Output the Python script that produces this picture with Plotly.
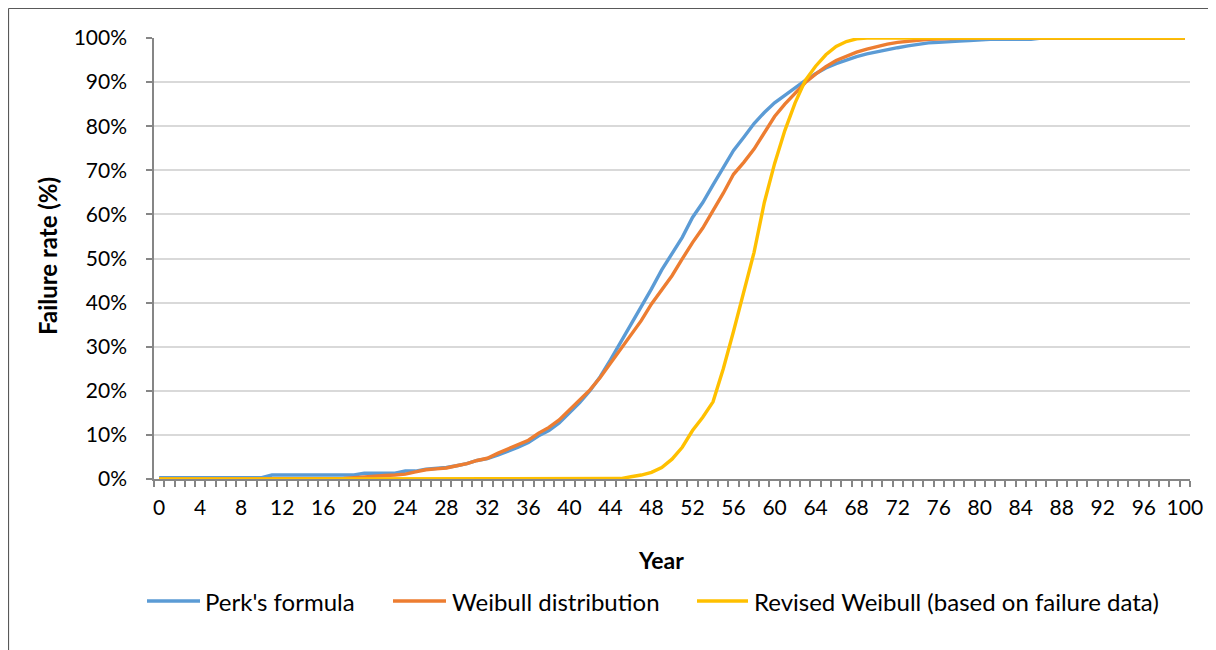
import plotly.graph_objects as go

years = list(range(0, 101))
tick_years = list(range(0, 101, 4))

perks_formula = (
    [0.3] * 11 + [0.9] * 9 + [1.3] * 4 + [1.8] * 2 +
    [2.2, 2.4, 2.6, 3.0, 3.5, 4.2, 4.6, 5.4, 6.2, 7.2,
     8.3, 9.8, 11.0, 12.7, 15.0, 17.3, 20.0, 23.2, 27.0, 31.0,
     35.0, 38.9, 43.1, 47.4, 51.0, 54.8, 59.3, 62.7, 66.7, 70.7,
     74.5, 77.5, 80.6, 83.1, 85.3, 87.0, 88.8, 90.4, 91.9, 93.2,
     94.2, 95.1, 95.8, 96.4, 96.9, 97.4, 97.8, 98.2, 98.6, 98.9,
     99.0, 99.2, 99.3, 99.4, 99.6] +
    [99.7] * 5 + [100.0] * 15
)

weibull = (
    [0.0] * 18 +
    [0.1, 0.3, 0.5, 0.7, 0.8, 0.9, 1.1, 1.6, 2.1, 2.3,
     2.5, 3.0, 3.5, 4.2, 4.7, 5.8, 6.8, 7.6, 8.8, 10.4,
     11.7, 13.4, 15.6, 17.9, 20.2, 23.0, 26.3, 29.4, 32.7, 35.9,
     39.7, 42.9, 46.1, 49.9, 53.6, 56.9, 60.8, 64.8, 69.1, 71.8,
     74.8, 78.6, 82.2, 85.0, 87.5, 89.9, 91.8, 93.5, 94.9, 95.9,
     96.8, 97.5, 98.1, 98.6, 99.0, 99.3, 99.5, 99.7, 99.8, 99.9] +
    [100.0] * 23
)

revised_weibull = (
    [0.0] * 45 +
    [0.1, 0.5, 0.9, 1.5, 2.6, 4.5, 7.2, 11.0, 14.0, 17.5,
     25.0, 33.5, 42.7, 51.4, 62.7, 71.5, 79.0, 85.3, 90.4, 93.6,
     96.2, 98.1, 99.2, 99.8] +
    [100.0] * 32
)

series_names = ["Perk's formula", "Weibull distribution",
                "Revised Weibull (based on failure data)"]
series_colors = ["#5B9BD5", "#ED7D31", "#FFC000"]

FONT = "Lato"
LINE_W = 3.4
fig = go.Figure()
for name, vals, col in zip(series_names, [perks_formula, weibull, revised_weibull], series_colors):
    fig.add_trace(go.Scatter(x=years, y=vals, mode="lines", name=name, showlegend=False,
                             line=dict(color=col, width=LINE_W)))

# page has an 8px body margin; coordinates below are screen pixels
OFF = 8
W, H = 1216, 650
L, R, T, B = 154 - OFF, W - (1190 - OFF), 38 - OFF, H - (479 - OFF)
pw, ph = W - L - R, H - T - B

def px(x):
    return (x - OFF - L) / pw

def py(y):
    return (H - B - (y - OFF)) / ph

# manual legend (line sample + label)
legend_lines = [(147, 200), (393, 446), (697, 748)]
legend_text_x = [203, 450, 752]
legend_y = 601

shapes = [
    dict(type="line", xref="paper", yref="paper", x0=px(8.5), x1=px(8.5), y0=py(8.5), y1=py(670),
         line=dict(color="#595959", width=1.2)),
    dict(type="line", xref="paper", yref="paper", x0=px(8.5), x1=px(1240), y0=py(8.5), y1=py(8.5),
         line=dict(color="#595959", width=1.2)),
]
annotations = [
    dict(text="<b>Year</b>", x=px(661), y=py(560), xref="paper", yref="paper",
         showarrow=False, xanchor="center", yanchor="middle",
         font=dict(family=FONT, size=23, color="#000000")),
    dict(text="<b>Failure rate (%)</b>", x=px(48), y=py(256), xref="paper", yref="paper",
         showarrow=False, xanchor="center", yanchor="middle", textangle=-90,
         font=dict(family=FONT, size=24, color="#000000")),
]
for (x0, x1), tx, name, col in zip(legend_lines, legend_text_x, series_names, series_colors):
    shapes.append(dict(type="line", xref="paper", yref="paper", x0=px(x0), x1=px(x1),
                       y0=py(legend_y), y1=py(legend_y), line=dict(color=col, width=LINE_W)))
    annotations.append(dict(text=name, x=px(tx), y=py(legend_y), xref="paper", yref="paper",
                            showarrow=False, xanchor="left", yanchor="middle",
                            font=dict(family=FONT, size=24, color="#000000")))

fig.update_layout(
    width=W, height=H,
    margin=dict(l=L, r=R, t=T, b=B),
    paper_bgcolor="white", plot_bgcolor="white",
    font=dict(family=FONT, size=21, color="#000000"),
    showlegend=False,
    xaxis=dict(
        range=[-0.5, 100.5], tickmode="array", tickvals=tick_years,
        ticktext=[str(v) for v in tick_years], ticks="",
        showline=True, linecolor="#868686", linewidth=1.5,
        showgrid=False, zeroline=False,
        tickfont=dict(family=FONT, size=21, color="#000000"),
        ticklabelstandoff=9,
        minor=dict(ticks="outside", tick0=-0.5, dtick=1, ticklen=6,
                   tickcolor="#868686", tickwidth=1.5, showgrid=False),
    ),
    yaxis=dict(
        range=[0, 100], tickmode="array", tickvals=list(range(0, 101, 10)),
        ticktext=[f"{v}%" for v in range(0, 101, 10)],
        ticks="outside", ticklen=6, tickcolor="#868686", tickwidth=1.5,
        showline=True, linecolor="#868686", linewidth=1.5,
        showgrid=True, gridcolor="#D9D9D9", gridwidth=1.5, zeroline=False,
        tickfont=dict(family=FONT, size=21, color="#000000"),
        ticklabelstandoff=15,
    ),
    annotations=annotations,
    shapes=shapes,
)

fig.write_html("out.html")
